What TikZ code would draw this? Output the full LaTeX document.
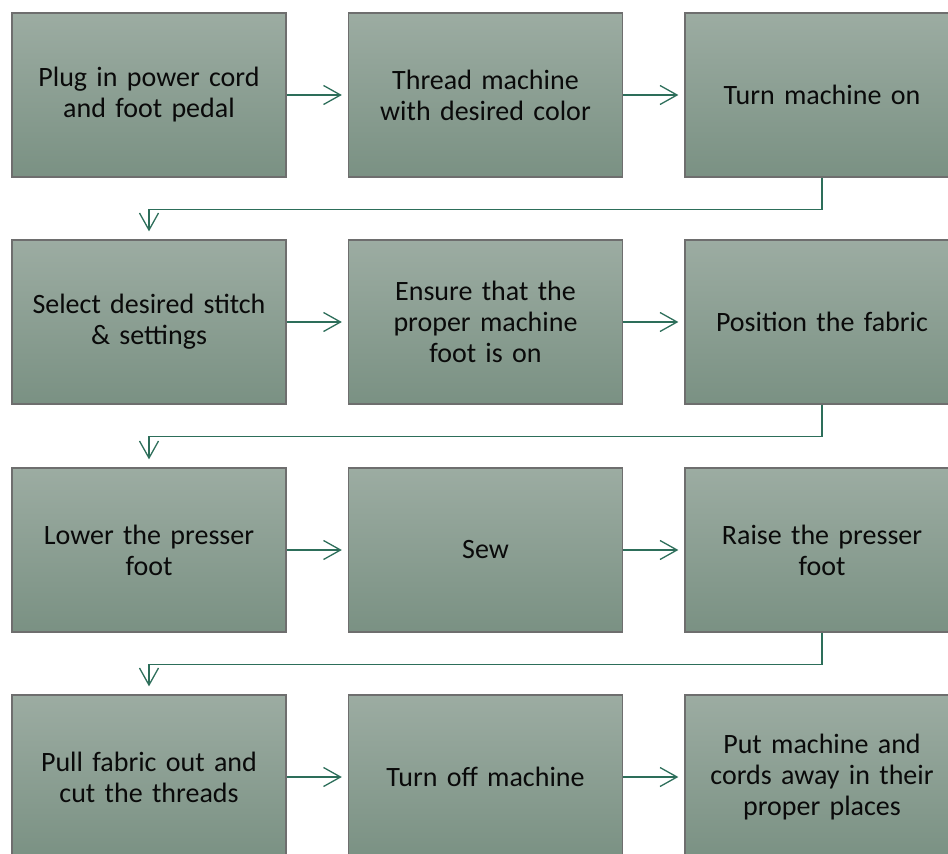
\documentclass[tikz,border=0pt]{standalone}
\usepackage{fontspec}
\setmainfont{Carlito}
\usetikzlibrary{arrows.meta}
\definecolor{boxtop}{HTML}{9CACA2}
\definecolor{boxbot}{HTML}{7A9183}
\definecolor{boxline}{HTML}{6E6E6E}
\definecolor{connc}{HTML}{2D6E5A}
\definecolor{txt}{HTML}{0A0A0A}
\begin{document}
\begin{tikzpicture}[x=1pt,y=-1pt,
  stepbox/.style={rectangle, draw=boxline, line width=1.3pt, top color=boxtop, bottom color=boxbot,
    minimum width=274pt, minimum height=164pt, text width=260pt, align=center,
    font=\fontsize{28}{31}\selectfont, text=txt, inner sep=0pt},
  conn/.style={draw=connc, line width=1.3pt, -{Straight Barb[length=17pt,width=19pt,line width=1.3pt]}, shorten >=6pt},
  elbow/.style={conn, shorten >=8pt}]
\useasboundingbox (0,0) rectangle (948,854);
\clip (0,0) rectangle (948,854);
\node[stepbox] (a) at (149,95) {Plug in power cord\\and foot pedal};
\node[stepbox] (b) at (485.5,95) {Thread machine\\with desired color};
\node[stepbox] (c) at (822,95) {Turn machine on};
\node[stepbox] (d) at (149,322) {Select desired stitch\\\& settings};
\node[stepbox] (e) at (485.5,322) {Ensure that the\\proper machine\\foot is on};
\node[stepbox] (f) at (822,322) {Position the fabric};
\node[stepbox] (g) at (149,550) {Lower the presser\\foot};
\node[stepbox] (h) at (485.5,550) {Sew};
\node[stepbox] (i) at (822,550) {Raise the presser\\foot};
\node[stepbox] (j) at (149,777) {Pull fabric out and\\cut the threads};
\node[stepbox] (k) at (485.5,777) {Turn off machine};
\node[stepbox] (l) at (822,777) {Put machine and\\cords away in their\\proper places};
\draw[conn] (a.east) -- (b.west);
\draw[conn] (b.east) -- (c.west);
\draw[conn] (d.east) -- (e.west);
\draw[conn] (e.east) -- (f.west);
\draw[conn] (g.east) -- (h.west);
\draw[conn] (h.east) -- (i.west);
\draw[conn] (j.east) -- (k.west);
\draw[conn] (k.east) -- (l.west);
\draw[elbow] (c.south) -- ++(0,32) -| (d.north);
\draw[elbow] (f.south) -- ++(0,32) -| (g.north);
\draw[elbow] (i.south) -- ++(0,32) -| (j.north);
\end{tikzpicture}
\end{document}
